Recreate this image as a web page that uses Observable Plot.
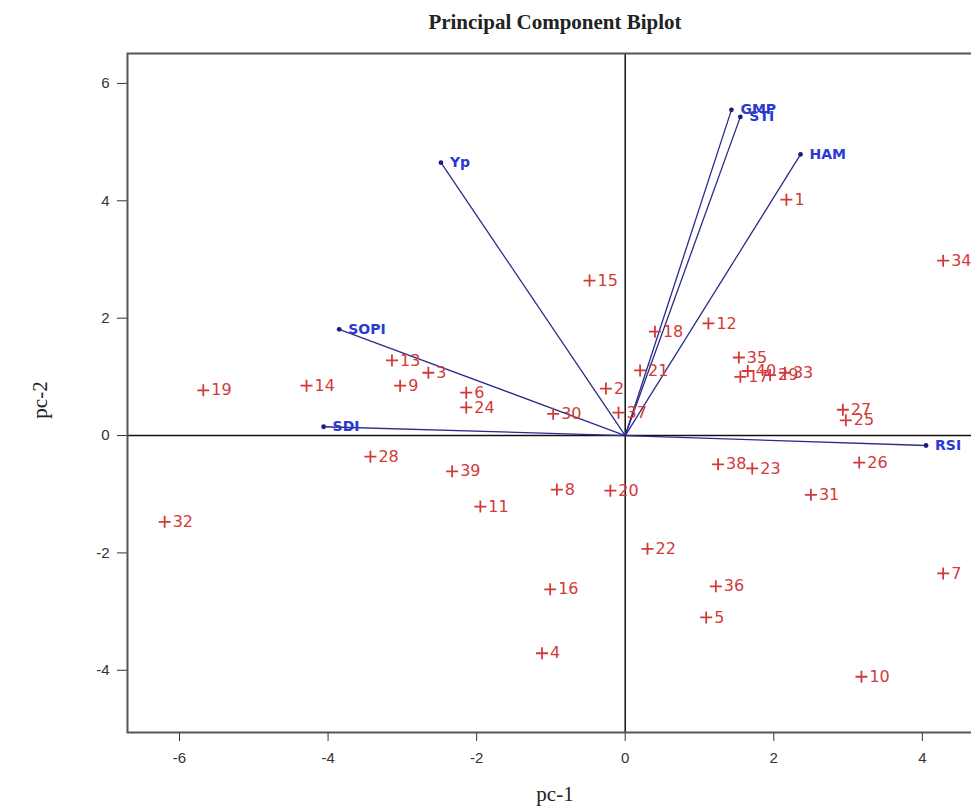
<!DOCTYPE html>
<html>
<head>
<meta charset="utf-8">
<script src="https://cdn.jsdelivr.net/npm/d3@7"></script>
<script src="https://cdn.jsdelivr.net/npm/@observablehq/plot@0.6"></script>
<style>
  html, body { margin: 0; padding: 0; background: #fff; overflow: hidden; width: 971px; height: 812px; }
  #wrap { position: relative; width: 1000px; height: 812px; }
  .title { position: absolute; left: 0; width: 1110px; top: 10px; text-align: center; font: bold 21px "Liberation Serif", serif; color: #222; }
  .xlab { position: absolute; left: 0; width: 1110px; top: 782px; text-align: center; font: 21px "Liberation Serif", serif; color: #222; }
  .ylab { position: absolute; left: 40px; top: 400px; transform: translate(-50%, -50%) rotate(-90deg); font: 21px "Liberation Serif", serif; color: #222; white-space: nowrap; }
</style>
</head>
<body>
<div id="wrap">
  <div id="chart"></div>
  <div class="title">Principal Component Biplot</div>
  <div class="xlab">pc-1</div>
  <div class="ylab">pc-2</div>
</div>
<script>
// Observation scores
const obsIds = [1,2,3,4,5,6,7,8,9,10,11,12,13,14,15,16,17,18,19,20,21,22,23,24,25,26,27,28,29,30,31,32,33,34,35,36,37,38,39,40];
const obsPc1 = [2.17,-0.26,-2.65,-1.12,1.09,-2.14,4.28,-0.92,-3.03,3.18,-1.95,1.12,-3.14,-4.29,-0.48,-1.01,1.55,0.40,-5.68,-0.20,0.20,0.30,1.71,-2.14,2.97,3.15,2.93,-3.43,1.95,-0.97,2.50,-6.20,2.15,4.28,1.53,1.22,-0.09,1.25,-2.33,1.65];
const obsPc2 = [4.02,0.80,1.07,-3.71,-3.10,0.73,-2.35,-0.92,0.85,-4.11,-1.21,1.91,1.28,0.85,2.64,-2.62,1.00,1.77,0.77,-0.94,1.11,-1.93,-0.56,0.48,0.26,-0.46,0.44,-0.36,1.03,0.37,-1.01,-1.47,1.07,2.98,1.33,-2.57,0.39,-0.49,-0.61,1.10];

// Variable loadings
const varNames = ["GMP","STI","HAM","Yp","SOPI","SDI","RSI"];
const varPc1 = [1.43,1.55,2.36,-2.48,-3.85,-4.06,4.05];
const varPc2 = [5.55,5.43,4.79,4.65,1.81,0.15,-0.17];

// Axis ticks
const xTicks = [-6,-4,-2,0,2,4];
const yTicks = [-4,-2,0,2,4,6];

const obs = obsIds.map((id, i) => ({id: String(id), x: obsPc1[i], y: obsPc2[i]}));
const vars = varNames.map((n, i) => ({name: n, x: varPc1[i], y: varPc2[i]}));

const plusSymbol = {
  draw(ctx, size) {
    const r = Math.sqrt(size / Math.PI);
    ctx.moveTo(-r, 0); ctx.lineTo(r, 0);
    ctx.moveTo(0, -r); ctx.lineTo(0, r);
  }
};

const chart = Plot.plot({
  width: 1000,
  height: 812,
  marginLeft: 127,
  marginRight: 15,
  marginTop: 53,
  marginBottom: 80,
  x: {domain: [-6.7, 4.85]},
  y: {domain: [-5.06, 6.51]},
  style: {fontFamily: "'Liberation Sans', Arial, sans-serif", background: "#fff", overflow: "visible"},
  marks: [
    Plot.axisX(xTicks, {tickSize: 9, tickPadding: 11, fontSize: 15, color: "#333", label: null, tickFormat: d => String(d)}),
    Plot.axisY(yTicks, {tickSize: 10, tickPadding: 8, fontSize: 15, color: "#333", label: null, tickFormat: d => String(d)}),
    Plot.ruleX([0], {stroke: "#111", strokeWidth: 1.5}),
    Plot.ruleY([0], {stroke: "#111", strokeWidth: 1.5}),
    Plot.link(vars, {x1: 0, y1: 0, x2: "x", y2: "y", stroke: "#2b2b8c", strokeWidth: 1.3}),
    Plot.dot(vars, {x: "x", y: "y", r: 2.4, fill: "#1c1c80", stroke: "none"}),
    Plot.text(vars, {x: "x", y: "y", text: "name", dx: 9, textAnchor: "start", fill: "#2a3ad0", fontSize: 14, fontFamily: "'DejaVu Sans', sans-serif", fontWeight: "bold"}),
    Plot.dot(obs, {x: "x", y: "y", symbol: plusSymbol, r: 6, stroke: "#d23a3a", strokeWidth: 1.8, fill: "none"}),
    Plot.text(obs, {x: "x", y: "y", text: "id", dx: 8, textAnchor: "start", fill: "#d23a3a", fontSize: 16, fontFamily: "'DejaVu Sans', sans-serif"}),
    Plot.frame({stroke: "#555", strokeWidth: 2})
  ]
});
document.getElementById("chart").appendChild(chart);
</script>
</body>
</html>
